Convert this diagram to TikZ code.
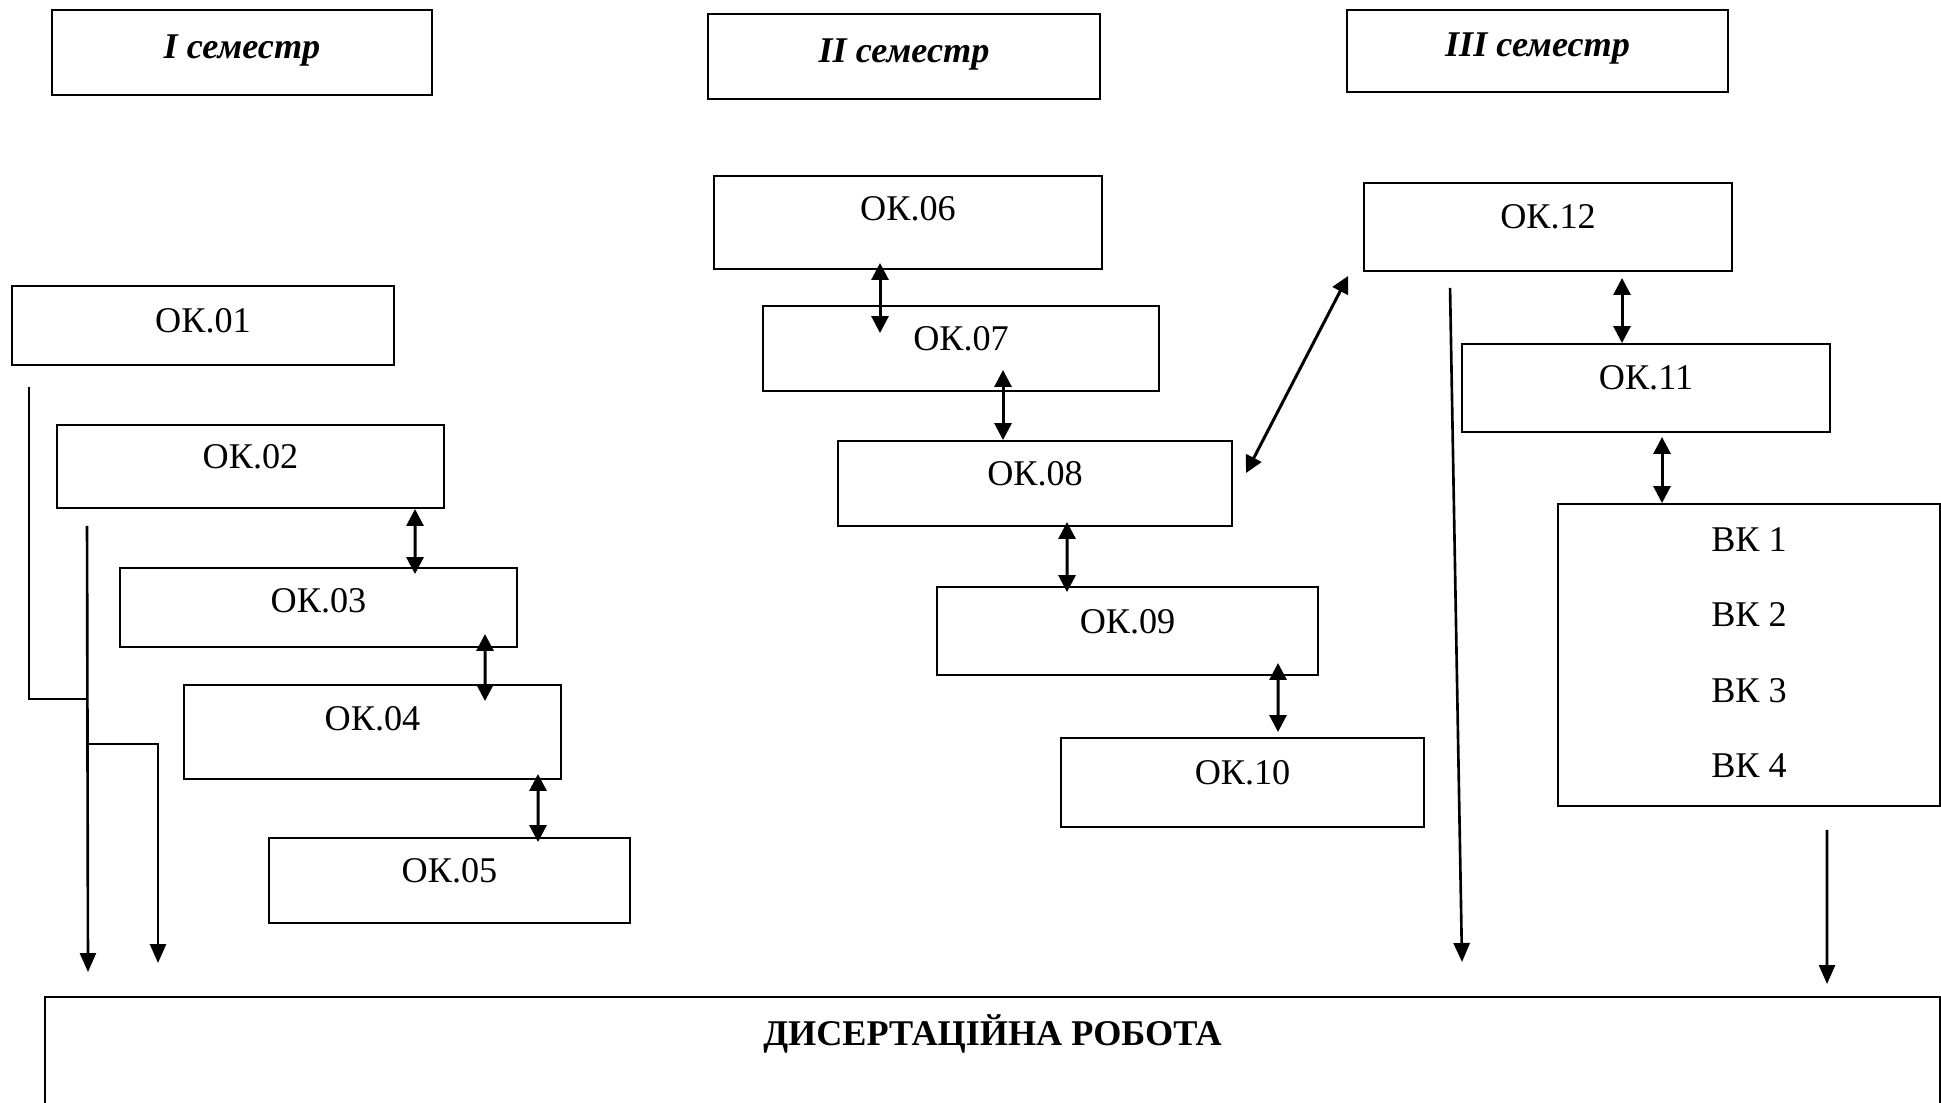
\documentclass[tikz,border=0pt]{standalone}
\usepackage{fontspec}
\setmainfont{Liberation Serif}
\usetikzlibrary{arrows.meta}

\begin{document}
\begin{tikzpicture}
        \tikzstyle{every node}=[font=\fontsize{10.3}{12.4}\selectfont]
        \tikzstyle{okbox}=[draw, line width=0.55pt, inner sep=0pt, text depth=0.2cm]
        \tikzstyle{semester}=[okbox, text depth=0.12cm, font=\fontsize{10.3}{12.4}\selectfont\bfseries\itshape]
        \tikzstyle{link}=[line width=0.85pt, {Triangle[length=1.7mm,width=1.7mm]}-{Triangle[length=1.7mm,width=1.7mm]}]
        \tikzstyle{flow}=[line width=0.75pt, -{Triangle[length=1.9mm,width=1.6mm]}]
        \tikzstyle{branch}=[line width=0.75pt]

        \useasboundingbox (0,0) rectangle (19.41,-11.02);

        % semesters
        \node[semester, minimum width=3.80cm, minimum height=0.85cm] (sem1) at (2.42,-0.525) {I семестр};
        \node[semester, minimum width=3.92cm, minimum height=0.85cm] (sem2) at (9.04,-0.565) {II семестр};
        \node[semester, minimum width=3.81cm, minimum height=0.82cm] (sem3) at (15.375,-0.51) {III семестр};

        % I semester
        \node[okbox, minimum width=3.82cm, minimum height=0.79cm, text depth=0.1cm] (ok01) at (2.03,-3.255) {ОК.01};
        \node[okbox, minimum width=3.87cm, minimum height=0.83cm] (ok02) at (2.505,-4.665) {ОК.02};
        \node[okbox, minimum width=3.97cm, minimum height=0.79cm, text depth=0.14cm] (ok03) at (3.185,-6.075) {ОК.03};
        \node[okbox, minimum width=3.77cm, minimum height=0.94cm, text depth=0.28cm] (ok04) at (3.725,-7.32) {ОК.04};
        \node[okbox, minimum width=3.61cm, minimum height=0.85cm] (ok05) at (4.495,-8.805) {ОК.05};

        % II semester
        \node[okbox, minimum width=3.88cm, minimum height=0.93cm, text depth=0.28cm] (ok06) at (9.08,-2.225) {ОК.06};
        \node[okbox, minimum width=3.96cm, minimum height=0.85cm] (ok07) at (9.61,-3.485) {ОК.07};
        \node[okbox, minimum width=3.94cm, minimum height=0.85cm] (ok08) at (10.35,-4.835) {ОК.08};
        \node[okbox, minimum width=3.81cm, minimum height=0.88cm] (ok09) at (11.275,-6.31) {ОК.09};
        \node[okbox, minimum width=3.63cm, minimum height=0.89cm] (ok10) at (12.425,-7.825) {ОК.10};

        % III semester
        \node[okbox, minimum width=3.68cm, minimum height=0.88cm] (ok12) at (15.48,-2.27) {ОК.12};
        \node[okbox, minimum width=3.68cm, minimum height=0.88cm] (ok11) at (16.46,-3.88) {ОК.11};
        \node[okbox, minimum width=3.82cm, minimum height=3.02cm, text depth=0.05cm, align=center,
              font=\fontsize{10.3}{21.5}\selectfont] (vk) at (17.49,-6.55) {ВК 1\\ВК 2\\ВК 3\\ВК 4};

        \node[okbox, minimum width=18.95cm, minimum height=1.6cm, text depth=0.93cm, anchor=north,
              font=\fontsize{10.3}{12.4}\selectfont\bfseries] (thesis) at (9.925,-9.96) {ДИСЕРТАЦІЙНА РОБОТА};

        \coordinate (j1) at (0.88,-6.99);
        \coordinate (j2) at (0.88,-7.44);
        \coordinate (t1) at (0.88,-9.72);
        \coordinate (t2) at (1.58,-9.63);
        \coordinate (t3) at (14.62,-9.62);
        \coordinate (t4) at (18.27,-9.84);

        % links
        \draw[link] ([xshift=1.645cm]ok02.south) -- ([xshift=0.965cm,yshift=-0.07cm]ok03.north);
        \draw[link] ([xshift=1.665cm,yshift=0.14cm]ok03.south) -- ([xshift=1.125cm,yshift=-0.17cm]ok04.north);
        \draw[link] ([xshift=1.655cm,yshift=0.06cm]ok04.south) -- ([xshift=0.885cm,yshift=-0.05cm]ok05.north);
        \draw[link] ([xshift=-0.28cm,yshift=0.07cm]ok06.south) -- ([xshift=-0.81cm,yshift=-0.28cm]ok07.north);
        \draw[link] ([xshift=0.42cm,yshift=0.22cm]ok07.south) -- ([xshift=-0.32cm]ok08.north);
        \draw[link] ([xshift=0.32cm,yshift=0.05cm]ok08.south) -- ([xshift=-0.605cm,yshift=-0.06cm]ok09.north);
        \draw[link] ([xshift=1.505cm,yshift=0.13cm]ok09.south) -- ([xshift=0.355cm,yshift=0.05cm]ok10.north);
        \draw[link] ([xshift=0.13cm,yshift=0.105cm]ok08.east) -- ([xshift=-0.15cm,yshift=-0.04cm]ok12.south west);
        \draw[link] ([xshift=0.74cm,yshift=-0.06cm]ok12.south) -- ([xshift=-0.24cm]ok11.north);
        \draw[link] ([xshift=0.16cm,yshift=-0.04cm]ok11.south) -- ([xshift=-0.87cm]vk.north);

        % to the thesis
        \draw[branch] ([xshift=0.18cm,yshift=-0.21cm]ok01.south west) |- (j1);
        \draw[flow] ([xshift=0.31cm,yshift=-0.17cm]ok02.south west) -- (t1);
        \draw[flow] (j2) -| (t2);
        \draw[flow] ([xshift=0.87cm,yshift=-0.16cm]ok12.south west) -- (t3);
        \draw[flow] ([xshift=0.78cm,yshift=-0.23cm]vk.south) -- (t4);

    \end{tikzpicture}
\end{document}
